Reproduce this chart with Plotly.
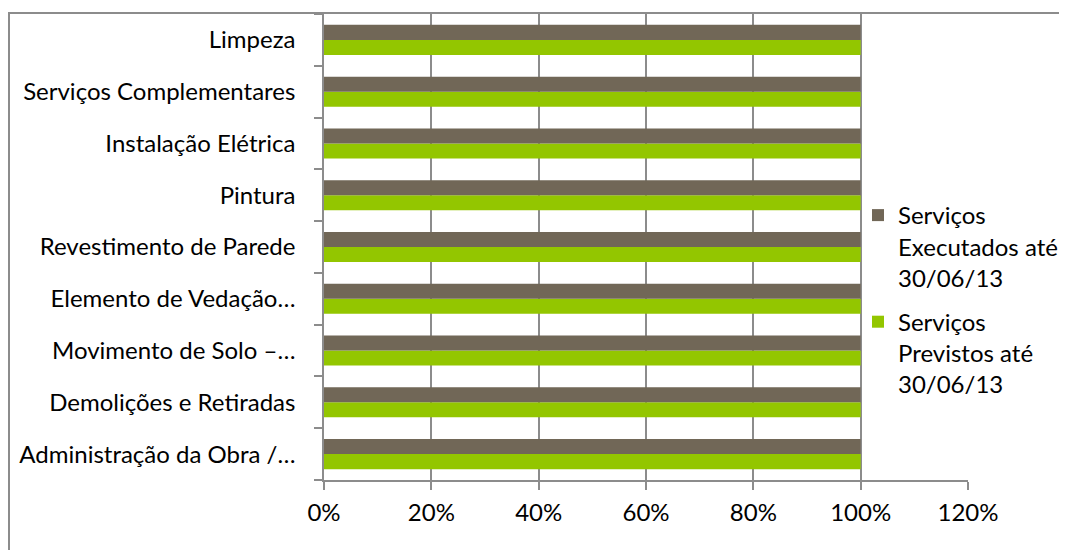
import plotly.graph_objects as go

# =====================================================
# DADOS
# =====================================================

categorias = [
    "Administração da Obra /…",
    "Demolições e Retiradas",
    "Movimento de Solo –…",
    "Elemento de Vedação…",
    "Revestimento de Parede",
    "Pintura",
    "Instalação Elétrica",
    "Serviços Complementares",
    "Limpeza",
]

executados = [1.0, 1.0, 1.0, 1.0, 1.0, 1.0, 1.0, 1.0, 1.0]
previstos = [1.0, 1.0, 1.0, 1.0, 1.0, 1.0, 1.0, 1.0, 1.0]

nome_exec = "Serviços<br>Executados até<br>30/06/13"
nome_prev = "Serviços<br>Previstos até<br>30/06/13"

x_ticks = [0, 0.2, 0.4, 0.6, 0.8, 1.0, 1.2]
x_labels = ["0%", "20%", "40%", "60%", "80%", "100%", "120%"]

COR_EXEC = "#716757"
COR_PREV = "#93C600"
COR_GRADE = "#8C8C8C"

# =====================================================
# FIGURA
# =====================================================

fig = go.Figure()

# previstos primeiro -> fica embaixo dentro do grupo
fig.add_trace(
    go.Bar(
        y=categorias,
        x=previstos,
        orientation="h",
        name=nome_prev,
        marker=dict(color=COR_PREV, line=dict(width=0)),
        legendrank=2,
        legendgroup="prev",
    )
)

fig.add_trace(
    go.Bar(
        y=categorias,
        x=executados,
        orientation="h",
        name=nome_exec,
        marker=dict(color=COR_EXEC, line=dict(width=0)),
        legendrank=1,
        legendgroup="exec",
    )
)

# a página tem 8px de margem no body -> compensar
W, H = 1067, 550
L, T = 316, 6
pw, ph = 644, 466
R = W - L - pw
B = H - T - ph

fig.update_layout(
    width=W,
    height=H,
    margin=dict(l=L, r=R, t=T, b=B, pad=0),
    barmode="group",
    bargap=0.42,
    bargroupgap=0,
    paper_bgcolor="white",
    plot_bgcolor="white",
    font=dict(family="Lato, Carlito, Calibri, sans-serif", size=24, color="black"),
    showlegend=True,
    legend=dict(
        x=(850 - L) / pw,
        y=(H - B - 185) / ph,
        xanchor="left",
        yanchor="top",
        valign="top",
        bgcolor="rgba(0,0,0,0)",
        font=dict(size=24),
        tracegroupgap=10,
        itemsizing="constant",
    ),
)

fig.update_xaxes(
    range=[0, 1.2],
    tickvals=x_ticks,
    ticktext=x_labels,
    showgrid=True,
    gridcolor=COR_GRADE,
    gridwidth=1.5,
    showline=True,
    linecolor=COR_GRADE,
    linewidth=1.5,
    ticks="outside",
    ticklen=8,
    tickcolor=COR_GRADE,
    tickwidth=1.5,
    zeroline=False,
    ticklabelstandoff=2,
)

fig.update_yaxes(
    type="category",
    categoryorder="array",
    categoryarray=categorias,
    showgrid=False,
    showline=True,
    linecolor=COR_GRADE,
    linewidth=1.5,
    ticks="outside",
    tickson="boundaries",
    ticklen=8,
    tickcolor=COR_GRADE,
    tickwidth=1.5,
    ticklabelstandoff=22,
)

# moldura externa do gráfico (esquerda e topo)
x_borda = (1 - L) / pw
y_topo = (H - B - 5) / ph
y_base = (H - B - H) / ph

fig.add_shape(
    type="path",
    xref="paper",
    yref="paper",
    path=f"M {x_borda} {y_base} L {x_borda} {y_topo} L {(W - L) / pw} {y_topo}",
    line=dict(color="#8C8C8C", width=2),
)

fig.write_html("out.html")
